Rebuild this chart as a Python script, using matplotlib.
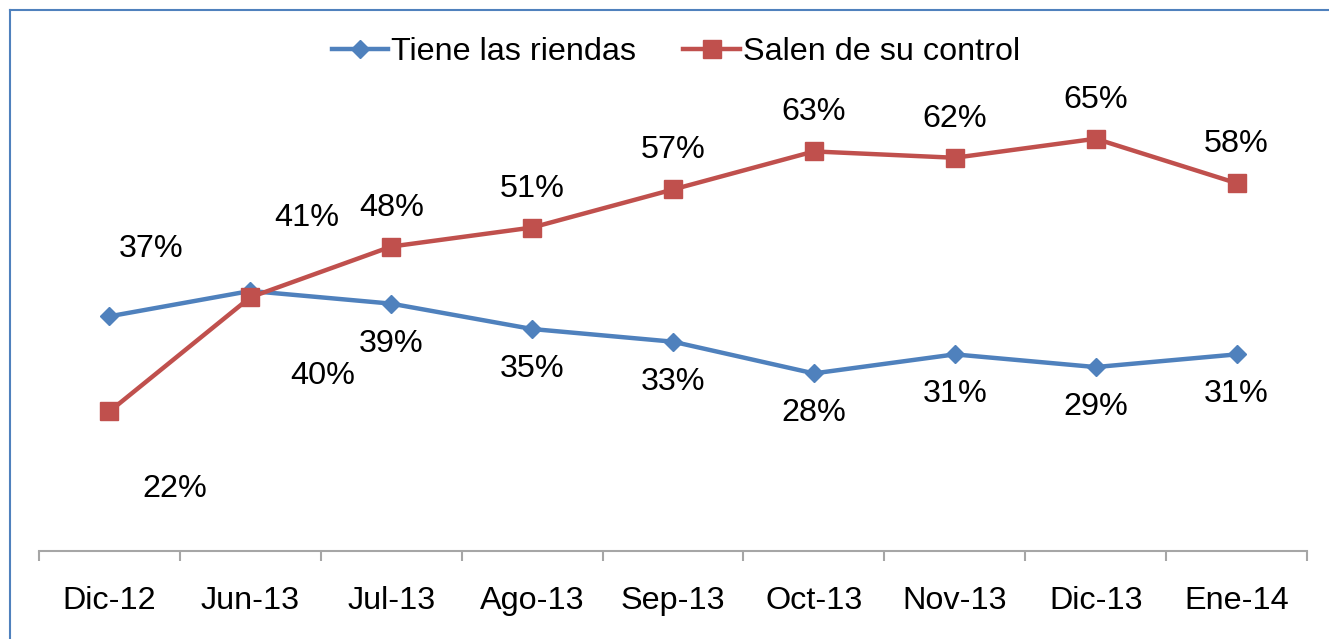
import matplotlib.pyplot as plt
from matplotlib.lines import Line2D

plt.rcParams['font.family'] = ['Liberation Sans', 'DejaVu Sans']

meses = ["Dic-12", "Jun-13", "Jul-13", "Ago-13", "Sep-13", "Oct-13", "Nov-13", "Dic-13", "Ene-14"]
tiene = [37, 41, 39, 35, 33, 28, 31, 29, 31]
salen = [22, 40, 48, 51, 57, 63, 62, 65, 58]

azul = "#4F81BD"
rojo = "#C0504D"
fs = 23.3

fig = plt.figure(figsize=(13.29, 6.39), dpi=100)
W, H = 1329, 639
ax = fig.add_axes([39 / W, (639 - 551) / H, (1307 - 39) / W, (551 - 43.6) / H])

x = range(len(meses))
ax.plot(x, tiene, color=azul, lw=3.2, marker="D", ms=9.5, label="Tiene las riendas")
ax.plot(x, salen, color=rojo, lw=3.2, marker="s", ms=12.5, label="Salen de su control")

# etiquetas (offsets en pixeles, como en el original)
off_t = [(42, 67), (56, 73)] + [(0, -40)] * 7
off_s = [(65, -78), (72, -79)] + [(0, 39)] * 7
for i in x:
    dx, dy = off_t[i]
    ax.annotate(f"{tiene[i]}%", (i, tiene[i]), xytext=(dx * 0.72, dy * 0.72),
                textcoords="offset points", ha="center", va="center", fontsize=fs)
    dx, dy = off_s[i]
    ax.annotate(f"{salen[i]}%", (i, salen[i]), xytext=(dx * 0.72, dy * 0.72),
                textcoords="offset points", ha="center", va="center", fontsize=fs)

ax.set_xlim(-0.5, len(meses) - 0.5)
ax.set_ylim(0, 80)
for s in ["top", "right", "left"]:
    ax.spines[s].set_visible(False)
ax.spines["bottom"].set_color("#A6A6A6")
ax.spines["bottom"].set_linewidth(1.5)
ax.set_yticks([])
ax.set_xticks(list(x))
ax.set_xticklabels(meses, fontsize=fs)
ax.tick_params(axis="x", which="major", length=0, pad=25)
ax.set_xticks([i - 0.5 for i in range(len(meses) + 1)], minor=True)
ax.tick_params(axis="x", which="minor", length=7, width=1.5, color="#A6A6A6", direction="out")

fig.legend(loc="center", bbox_to_anchor=(676 / W, 1 - 52 / H), ncol=2, frameon=False,
           fontsize=fs, handlelength=1.75, handletextpad=0.1, columnspacing=1.45)

# marco del grafico
fig.add_artist(Line2D([9.5 / W, 1.0], [1 - 9.5 / H, 1 - 9.5 / H], transform=fig.transFigure,
                      color="#4F81BD", lw=1.5))
fig.add_artist(Line2D([9.5 / W, 9.5 / W], [0, 1 - 9.5 / H], transform=fig.transFigure,
                      color="#4F81BD", lw=1.5))

fig.savefig("out.png", dpi=100)
